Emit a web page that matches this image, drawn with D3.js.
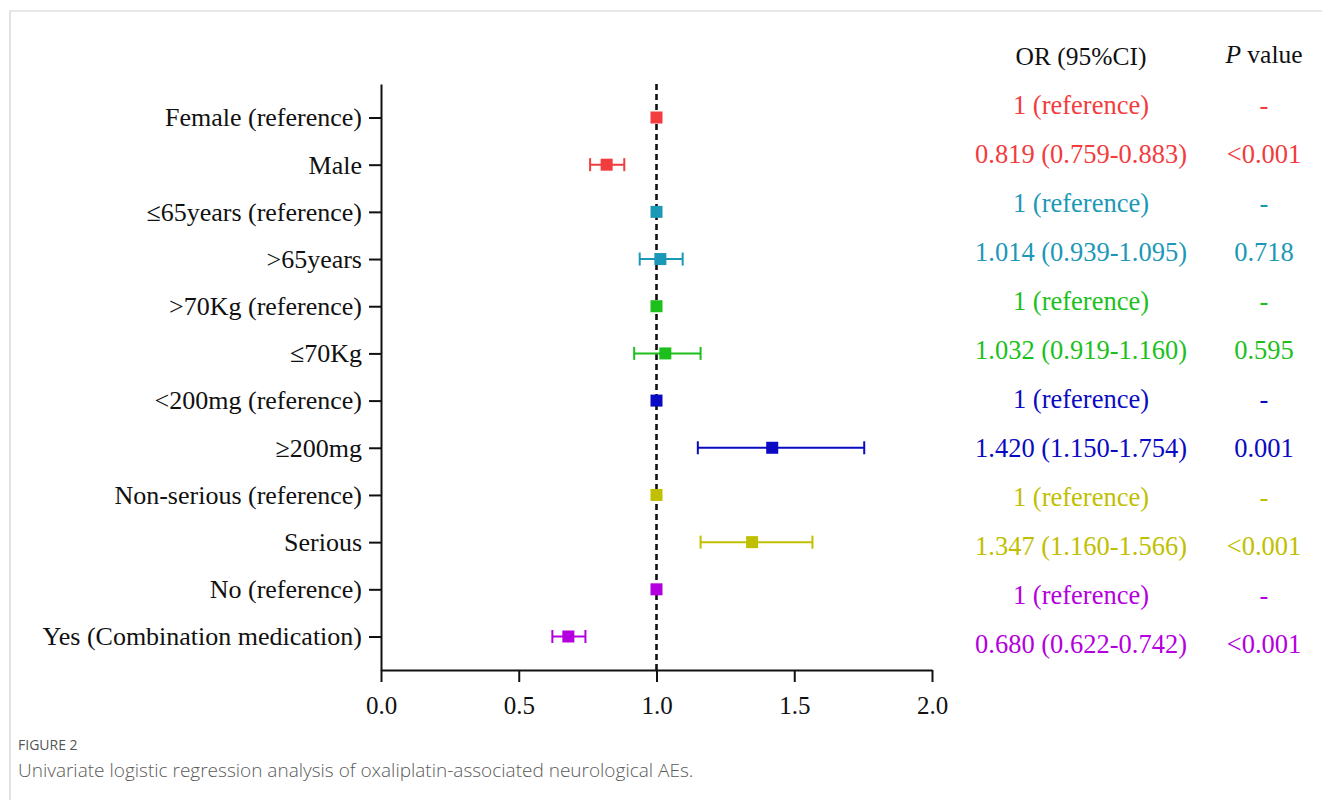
<!DOCTYPE html>
<html>
<head>
<meta charset="utf-8">
<title>Univariate logistic regression - forest plot</title>
<script src="https://cdn.jsdelivr.net/npm/d3@7"></script>
<style>
    body { margin: 0; background: #fff; }
    svg { display: block; }
</style>
</head>
<body>
<div id="chart"></div>
<script>
// Row labels (top to bottom)
const categories = [
    'Female (reference)', 'Male',
    '\u226465years (reference)', '>65years',
    '>70Kg (reference)', '\u226470Kg',
    '<200mg (reference)', '\u2265200mg',
    'Non-serious (reference)', 'Serious',
    'No (reference)', 'Yes (Combination medication)'
];

// Odds ratios and 95% CI bounds (null = reference group, no CI)
const orValues = [1, 0.819, 1, 1.014, 1, 1.032, 1, 1.420, 1, 1.347, 1, 0.680];
const ciLower  = [null, 0.759, null, 0.939, null, 0.919, null, 1.150, null, 1.160, null, 0.622];
const ciUpper  = [null, 0.883, null, 1.095, null, 1.160, null, 1.754, null, 1.566, null, 0.742];

// Right hand table text
const orLabels = [
    '1 (reference)', '0.819 (0.759-0.883)',
    '1 (reference)', '1.014 (0.939-1.095)',
    '1 (reference)', '1.032 (0.919-1.160)',
    '1 (reference)', '1.420 (1.150-1.754)',
    '1 (reference)', '1.347 (1.160-1.566)',
    '1 (reference)', '0.680 (0.622-0.742)'
];
const pLabels = ['-', '<0.001', '-', '0.718', '-', '0.595', '-', '0.001', '-', '<0.001', '-', '<0.001'];

// One colour per variable (each covers two rows)
const groupColors = ['#f23c3e', '#1b98b6', '#1cbf1c', '#0a0ac2', '#c0bf00', '#b400de'];

const xTicks = [0, 0.5, 1.0, 1.5, 2.0];

const rows = categories.map((label, i) => ({
    label: label,
    or: orValues[i],
    lo: ciLower[i],
    hi: ciUpper[i],
    orText: orLabels[i],
    pText: pLabels[i],
    color: groupColors[Math.floor(i / 2)]
}));

// Layout
const width = 1322;
const height = 800;
const plot = { left: 381, right: 932, top: 84, bottom: 670 };
const serif = '"Liberation Serif", "Times New Roman", Times, serif';
const sans = '"Open Sans", "Noto Sans", sans-serif';

const svg = d3.select('#chart')
    .append('svg')
    .attr('width', width)
    .attr('height', height);

// Page frame (thin grey border at top / left)
svg.append('path')
    .attr('d', `M10,${height}V11H${width}`)
    .attr('fill', 'none')
    .attr('stroke', '#cfcfcf')
    .attr('stroke-width', 1.2);

// Scales
const x = d3.scaleLinear()
    .domain([0, 2])
    .range([plot.left, plot.right]);

const y = d3.scalePoint()
    .domain(categories)
    .range([plot.top, plot.bottom])
    .padding(0.71);

// table rows sit a little wider apart than the plot rows
const yTable = d3.scalePoint()
    .domain(categories)
    .range([106, 645]);

// Y axis
const yAxis = svg.append('g')
    .attr('transform', `translate(${plot.left},0)`)
    .call(d3.axisLeft(y).tickSize(12).tickSizeOuter(0).tickPadding(7));

yAxis.selectAll('text')
    .style('font-family', serif)
    .style('font-size', '26px')
    .attr('fill', '#111');

// X axis
const xAxis = svg.append('g')
    .attr('transform', `translate(0,${plot.bottom})`)
    .call(d3.axisBottom(x).tickValues(xTicks).tickFormat(d3.format('.1f'))
        .tickSize(12).tickSizeOuter(0).tickPadding(14));

xAxis.selectAll('text')
    .style('font-family', serif)
    .style('font-size', '25px')
    .attr('fill', '#111');

svg.selectAll('.domain, .tick line')
    .attr('stroke', '#111')
    .attr('stroke-width', 2);

// Reference line at OR = 1
svg.append('line')
    .attr('x1', x(1)).attr('x2', x(1))
    .attr('y1', plot.top).attr('y2', plot.bottom)
    .attr('stroke', '#111')
    .attr('stroke-width', 2.6)
    .attr('stroke-dasharray', '6,4');

// Error bars
const capH = 6.5;
const withCI = rows.filter(d => d.lo !== null);

const bars = svg.append('g')
    .selectAll('g')
    .data(withCI)
    .enter()
    .append('g')
    .attr('stroke', d => d.color)
    .attr('stroke-width', 2);

bars.append('line')
    .attr('x1', d => x(d.lo)).attr('x2', d => x(d.hi))
    .attr('y1', d => y(d.label)).attr('y2', d => y(d.label));

bars.append('line')
    .attr('x1', d => x(d.lo)).attr('x2', d => x(d.lo))
    .attr('y1', d => y(d.label) - capH).attr('y2', d => y(d.label) + capH);

bars.append('line')
    .attr('x1', d => x(d.hi)).attr('x2', d => x(d.hi))
    .attr('y1', d => y(d.label) - capH).attr('y2', d => y(d.label) + capH);

// Point estimates
const sq = 12;
svg.append('g')
    .selectAll('rect')
    .data(rows)
    .enter()
    .append('rect')
    .attr('x', d => x(d.or) - sq / 2)
    .attr('y', d => y(d.label) - sq / 2)
    .attr('width', sq)
    .attr('height', sq)
    .attr('fill', d => d.color);

// Table headers
const orColX = 1081;
const pColX = 1264;

svg.append('text')
    .attr('x', orColX)
    .attr('y', 65)
    .attr('text-anchor', 'middle')
    .style('font-family', serif)
    .style('font-size', '25.5px')
    .attr('fill', '#111')
    .text('OR (95%CI)');

const pHead = svg.append('text')
    .attr('x', pColX)
    .attr('y', 63)
    .attr('text-anchor', 'middle')
    .style('font-family', serif)
    .style('font-size', '25.5px')
    .attr('fill', '#111');
pHead.append('tspan').style('font-style', 'italic').text('P');
pHead.append('tspan').text(' value');

// Table body
const table = svg.append('g')
    .style('font-family', serif)
    .style('font-size', '26.5px');

table.selectAll('.or-text')
    .data(rows)
    .enter()
    .append('text')
    .attr('class', 'or-text')
    .attr('x', orColX)
    .attr('y', d => yTable(d.label))
    .attr('dy', '0.32em')
    .attr('text-anchor', 'middle')
    .attr('fill', d => d.color)
    .text(d => d.orText);

table.selectAll('.p-text')
    .data(rows)
    .enter()
    .append('text')
    .attr('class', 'p-text')
    .attr('x', pColX)
    .attr('y', d => yTable(d.label))
    .attr('dy', '0.32em')
    .attr('text-anchor', 'middle')
    .attr('fill', d => d.color)
    .text(d => d.pText);

// Caption
svg.append('text')
    .attr('x', 18)
    .attr('y', 750)
    .style('font-family', sans)
    .style('font-size', '14px')
    .attr('fill', '#555')
    .text('FIGURE 2');

svg.append('text')
    .attr('x', 18)
    .attr('y', 777)
    .style('font-family', sans)
    .style('font-size', '19px')
    .style('font-weight', 300)
    .attr('fill', '#5a5a5a')
    .text('Univariate logistic regression analysis of oxaliplatin-associated neurological AEs.');
</script>
</body>
</html>
